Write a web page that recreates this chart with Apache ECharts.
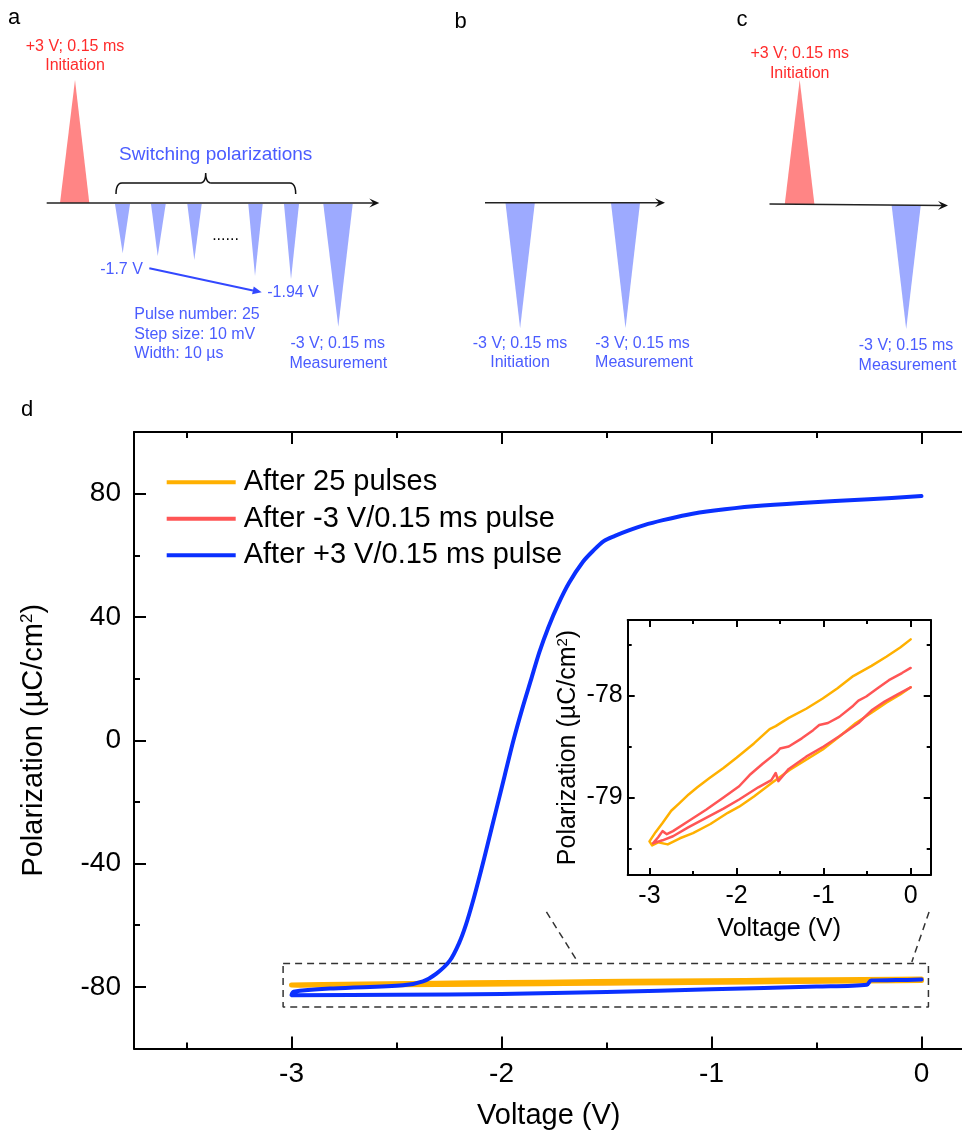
<!DOCTYPE html>
<html><head><meta charset="utf-8">
<script src="https://cdn.jsdelivr.net/npm/echarts@6/dist/echarts.min.js"></script>
<style>html,body{margin:0;padding:0;background:#fff}#c{width:962px;height:1139px}</style>
</head><body><div id="c"></div><script>
// ---------------- data (voltage V, polarization µC/cm²) ----------------
const seriesNames = ['After 25 pulses', 'After -3 V/0.15 ms pulse', 'After +3 V/0.15 ms pulse'];
const seriesColors = ['#FFB000', '#FF5555', '#0A30FF'];

const pulses25 = [
  [0,-77.45],[-0.12,-77.53],[-0.28,-77.62],[-0.45,-77.71],[-0.66,-77.81],[-0.84,-77.93],[-1.01,-78.03],
  [-1.2,-78.13],[-1.4,-78.22],[-1.55,-78.30],[-1.62,-78.33],[-1.8,-78.47],[-2.0,-78.61],[-2.15,-78.71],
  [-2.31,-78.81],[-2.45,-78.9],[-2.55,-78.97],[-2.655,-79.055],[-2.75,-79.13],[-2.85,-79.25],[-2.93,-79.34],
  [-3.0,-79.43],[-2.97,-79.47],[-2.9,-79.44],[-2.79,-79.46],[-2.65,-79.40],[-2.5,-79.35],[-2.3,-79.26],
  [-2.1,-79.15],[-1.97,-79.09],[-1.8,-78.99],[-1.6,-78.86],[-1.39,-78.73],[-1.2,-78.63],[-1.01,-78.53],
  [-0.8,-78.39],[-0.63,-78.27],[-0.45,-78.17],[-0.28,-78.07],[-0.12,-77.99],[0,-77.92]
];
const negPulse = [
  [0,-77.73],[-0.1,-77.78],[-0.25,-77.85],[-0.38,-77.93],[-0.51,-78.01],[-0.6,-78.05],[-0.66,-78.1],
  [-0.82,-78.21],[-0.95,-78.27],[-1.05,-78.29],[-1.12,-78.34],[-1.25,-78.42],[-1.4,-78.5],[-1.5,-78.52],
  [-1.54,-78.56],[-1.7,-78.67],[-1.85,-78.78],[-1.97,-78.89],[-2.15,-79.0],[-2.35,-79.12],[-2.55,-79.23],
  [-2.73,-79.33],[-2.8,-79.36],[-2.85,-79.33],[-2.9,-79.39],[-2.96,-79.45],[-2.93,-79.44],[-2.85,-79.42],
  [-2.73,-79.38],[-2.55,-79.29],[-2.35,-79.2],[-2.15,-79.11],[-1.97,-79.02],[-1.75,-78.9],[-1.6,-78.83],
  [-1.55,-78.76],[-1.52,-78.84],[-1.4,-78.72],[-1.2,-78.6],[-1.0,-78.5],[-0.82,-78.4],[-0.6,-78.27],
  [-0.44,-78.14],[-0.3,-78.06],[-0.15,-77.99],[0,-77.92]
];
const posPulse = [
  [0,79.2],[-0.25,78.2],[-0.574,77.0],[-0.8,75.9],[-0.986,74.5],[-1.12,73.1],[-1.231,71.4],[-1.32,69.8],
  [-1.397,68.0],[-1.46,66.3],[-1.513,64.6],[-1.563,61.5],[-1.612,57.9],[-1.678,51.1],[-1.728,44.4],
  [-1.777,36.6],[-1.82,28.5],[-1.86,19.5],[-1.90,10.5],[-1.943,0],[-1.985,-11.5],[-2.025,-22.5],
  [-2.065,-33.5],[-2.10,-43],[-2.135,-52],[-2.17,-60],[-2.2,-65.5],[-2.246,-71.5],[-2.31,-75.7],
  [-2.374,-78.2],[-2.469,-79.5],[-2.8,-80.5],[-2.99,-81.6],[-3.0,-82.7],[-2.5,-82.6],[-2.0,-82.3],
  [-1.5,-81.7],[-1.0,-80.8],[-0.5,-79.9],[-0.26,-79.3],[-0.24,-77.9],[-0.12,-77.8],[0,-77.65]
];

const mainXLabels = [-3, -2, -1, 0];
const mainXMinor = [-3.5, -2.5, -1.5, -0.5];
const mainYLabels = [-80, -40, 0, 40, 80];
const mainYMinor = [-60, -20, 20, 60];
const insetXLabels = [-3, -2, -1, 0];
const insetXMinor = [-2.5, -1.5, -0.5];
const insetYLabels = [-79, -78];
const insetYMinor = [-79.5, -78.5, -77.5];

const zoomWindow = [[-3.04,-72.4],[0.033,-72.4],[0.033,-86.5],[-3.04,-86.5],[-3.04,-72.4]];
const leaderLeft = [[-1.786,-55.7],[-1.637,-71.9]];
const leaderRight = [[0.036,-55.7],[-0.046,-71.9]];

// ---------------- chart ----------------
const FONT = '"Liberation Sans", Arial, Helvetica, sans-serif';
const chart = echarts.init(document.getElementById('c'), null, {renderer: 'canvas'});

function axis(gridIndex, position, min, max, ticks, len, extra) {
  return Object.assign({
    type: 'value', gridIndex, position, min, max,
    axisLine: {show: false, onZero: false},
    splitLine: {show: false},
    axisTick: {show: true, inside: true, length: len, customValues: ticks, lineStyle: {color: '#000', width: 2}},
    axisLabel: {show: false},
    axisPointer: {show: false}
  }, extra || {});
}
const lineOn = {show: true, onZero: false, lineStyle: {color: '#000', width: 2}};
function lbl(vals, size, margin) {
  return {show: true, customValues: vals, fontSize: size, fontFamily: FONT, color: '#000', margin,
          formatter: v => String(v)};
}
function titleStyle(size) {
  return {fontSize: size, fontFamily: FONT, color: '#000',
          rich: {s: {fontSize: Math.round(size * 0.6), fontFamily: FONT, color: '#000', verticalAlign: 'top',
                     lineHeight: size}}};
}

const MX = [-3.75, 0.2], MY = [-100, 100];
const IX = [-3.25, 0.23], IY = [-79.76, -77.26];
const P_TITLE = 'Polarization (µC/cm{s|2})';

const xAxes = [
  axis(0, 'bottom', MX[0], MX[1], mainXLabels, 12, {axisLine: lineOn, axisLabel: lbl(mainXLabels, 28, 12),
    name: 'Voltage (V)', nameLocation: 'middle', nameGap: 53,
    nameTextStyle: {fontSize: 29, fontFamily: FONT, color: '#000'}}),
  axis(0, 'bottom', MX[0], MX[1], mainXMinor, 6),
  axis(0, 'top', MX[0], MX[1], mainXLabels, 12, {axisLine: lineOn}),
  axis(0, 'top', MX[0], MX[1], mainXMinor, 6),
  axis(1, 'bottom', IX[0], IX[1], insetXLabels, 7, {axisLine: lineOn, axisLabel: lbl(insetXLabels, 25, 9),
    name: 'Voltage (V)', nameLocation: 'middle', nameGap: 42,
    nameTextStyle: {fontSize: 25, fontFamily: FONT, color: '#000'}}),
  axis(1, 'bottom', IX[0], IX[1], insetXMinor, 4),
  axis(1, 'top', IX[0], IX[1], insetXLabels, 7, {axisLine: lineOn}),
  axis(1, 'top', IX[0], IX[1], insetXMinor, 4)
];
const yAxes = [
  axis(0, 'left', MY[0], MY[1], mainYLabels, 12, {axisLine: lineOn, axisLabel: lbl(mainYLabels, 28, 13),
    name: P_TITLE, nameLocation: 'middle', nameGap: 86, nameTextStyle: titleStyle(29)}),
  axis(0, 'left', MY[0], MY[1], mainYMinor, 6),
  axis(1, 'left', IY[0], IY[1], insetYLabels, 7, {axisLine: lineOn, axisLabel: lbl(insetYLabels, 25, 5),
    name: P_TITLE, nameLocation: 'middle', nameGap: 47, nameTextStyle: titleStyle(25)}),
  axis(1, 'left', IY[0], IY[1], insetYMinor, 4),
  axis(1, 'right', IY[0], IY[1], insetYLabels, 7, {axisLine: lineOn}),
  axis(1, 'right', IY[0], IY[1], insetYMinor, 4)
];

function curve(name, data, color, width, xi, yi, z, smooth) {
  return {type: 'line', name, data, xAxisIndex: xi, yAxisIndex: yi, showSymbol: false, symbol: 'none',
          silent: true, animation: false, z: z || 2, clip: true, smooth: smooth || false,
          lineStyle: {color, width, join: 'round', cap: 'round'}, itemStyle: {color}};
}
function dashed(data) {
  return {type: 'line', data, xAxisIndex: 0, yAxisIndex: 0, showSymbol: false, symbol: 'none', silent: true,
          animation: false, z: 1, lineStyle: {color: '#333', width: 1.5, type: [7, 5]}};
}

// ---------------- schematic (panels a-c) ----------------
const PINK = '#FF8585', RED_T = '#FF2B2B', BLUE_F = '#9DAAFF', BLUE_T = '#4A5CFF', ARROW_B = '#3348FF';
const g = [];
function tri(x1, x2, yb, xa, ya, fill) {
  g.push({type: 'polygon', shape: {points: [[x1, yb], [x2, yb], [xa, ya]]}, style: {fill}, silent: true});
}
function txt(text, x, y, fill, size, align) {
  g.push({type: 'text', silent: true, style: {text, x, y, fill, font: size + 'px ' + FONT,
          align: align || 'center', verticalAlign: 'middle'}});
}
function timeAxis(x1, y1, x2, y2) {
  const dx = x2 - x1, dy = y2 - y1, L = Math.hypot(dx, dy), ux = dx / L, uy = dy / L;
  const bx = x2 - ux * 10, by = y2 - uy * 10;
  g.push({type: 'line', shape: {x1, y1, x2: x2 - ux * 4, y2: y2 - uy * 4}, style: {stroke: '#222', lineWidth: 1.5}, silent: true});
  g.push({type: 'polygon', silent: true, style: {fill: '#111'}, shape: {points: [
    [x2, y2], [bx - uy * 4.5, by + ux * 4.5], [x2 - ux * 6, y2 - uy * 6], [bx + uy * 4.5, by - ux * 4.5]]}});
}
function quad(p0, c, p1, n) {
  const out = [];
  for (let i = 0; i <= n; i++) {
    const t = i / n, a = (1 - t) * (1 - t), b = 2 * (1 - t) * t, d = t * t;
    out.push([a * p0[0] + b * c[0] + d * p1[0], a * p0[1] + b * c[1] + d * p1[1]]);
  }
  return out;
}

// panel a
txt('a', 14, 18, '#000', 22);
tri(60, 89.3, 203, 75, 80, PINK);
tri(115, 130, 204, 122.7, 253.3, BLUE_F);
tri(151, 165.7, 204, 157.7, 256, BLUE_F);
tri(187.3, 201.7, 204, 194.3, 260, BLUE_F);
tri(248.3, 262.7, 204, 255, 276, BLUE_F);
tri(284, 299, 204, 291, 279.3, BLUE_F);
tri(323.3, 352.7, 204, 338.3, 326.7, BLUE_F);
timeAxis(46.7, 203, 379.3, 203);
(function () {
  const pts = [].concat(
    quad([116, 194], [116, 183], [122, 183], 6),
    quad([200, 183], [205.7, 183], [205.7, 173], 6),
    quad([205.7, 173], [205.7, 183], [211.4, 183], 6),
    quad([289.7, 183], [295.7, 183], [295.7, 194], 6));
  g.push({type: 'polyline', silent: true, shape: {points: pts}, style: {stroke: '#111', lineWidth: 1.5, fill: null}});
})();
txt('+3 V; 0.15 ms', 75, 46.7, RED_T, 16);
txt('Initiation', 75, 66, RED_T, 16);
txt('Switching polarizations', 215.7, 155, BLUE_T, 19);
txt('......', 225.5, 236, '#000', 16);
txt('-1.7 V', 121.5, 269.3, BLUE_T, 16);
txt('-1.94 V', 293, 292.7, BLUE_T, 16);
txt('Pulse number: 25', 134.3, 315, BLUE_T, 16, 'left');
txt('Step size: 10 mV', 134.3, 334.5, BLUE_T, 16, 'left');
txt('Width: 10 µs', 134.3, 354, BLUE_T, 16, 'left');
txt('-3 V; 0.15 ms', 337.7, 344, BLUE_T, 16);
txt('Measurement', 338.3, 363.3, BLUE_T, 16);
(function () {
  const x1 = 149.3, y1 = 268.3, x2 = 261.7, y2 = 292.3;
  const L = Math.hypot(x2 - x1, y2 - y1), ux = (x2 - x1) / L, uy = (y2 - y1) / L;
  const bx = x2 - ux * 9, by = y2 - uy * 9;
  g.push({type: 'line', silent: true, shape: {x1, y1, x2: bx, y2: by}, style: {stroke: ARROW_B, lineWidth: 2}});
  g.push({type: 'polygon', silent: true, style: {fill: ARROW_B},
          shape: {points: [[x2, y2], [bx - uy * 4, by + ux * 4], [bx + uy * 4, by - ux * 4]]}});
})();

// panel b
txt('b', 460.6, 21.7, '#000', 22);
tri(505.5, 534.8, 203, 520.1, 328.3, BLUE_F);
tri(611, 640, 203, 625.5, 328.3, BLUE_F);
timeAxis(485, 202.7, 665, 202.7);
txt('-3 V; 0.15 ms', 520, 343.3, BLUE_T, 16);
txt('Initiation', 520, 362.7, BLUE_T, 16);
txt('-3 V; 0.15 ms', 642.5, 343.3, BLUE_T, 16);
txt('Measurement', 644, 362.7, BLUE_T, 16);

// panel c
txt('c', 742, 20, '#000', 22);
tri(784.8, 814.4, 204, 799.7, 80, PINK);
tri(891.6, 920.8, 205, 906.2, 329.3, BLUE_F);
timeAxis(769.5, 204, 948, 205.5);
txt('+3 V; 0.15 ms', 799.7, 53.3, RED_T, 16);
txt('Initiation', 799.7, 73.3, RED_T, 16);
txt('-3 V; 0.15 ms', 906, 345.7, BLUE_T, 16);
txt('Measurement', 907.5, 365.7, BLUE_T, 16);

// panel d letter
txt('d', 27, 410, '#000', 22);

chart.setOption({
  animation: false,
  backgroundColor: '#fff',
  grid: [
    {left: 134, top: 432, width: 829.5, height: 616.5, containLabel: false, outerBoundsMode: 'none'},
    {left: 627.7, top: 620, width: 303, height: 255, containLabel: false, outerBoundsMode: 'none'}
  ],
  xAxis: xAxes,
  yAxis: yAxes,
  legend: {
    data: seriesNames, orient: 'vertical', left: 166.7, top: 467, icon: 'rect', padding: 0,
    itemWidth: 69, itemHeight: 4, itemGap: 6, selectedMode: false,
    textStyle: {fontSize: 29, fontFamily: FONT, color: '#000', lineHeight: 30.5, padding: [0, 0, 0, 3]}
  },
  series: [
    curve(seriesNames[1], negPulse, seriesColors[1], 4, 0, 0, 2),
    curve(seriesNames[0], pulses25, seriesColors[0], 5, 0, 0, 3),
    curve(seriesNames[2], posPulse, seriesColors[2], 4, 0, 0, 4, 0.3),
    dashed(zoomWindow), dashed(leaderLeft), dashed(leaderRight),
    curve(seriesNames[0], pulses25, seriesColors[0], 2.5, 4, 2, 6),
    curve(seriesNames[1], negPulse, seriesColors[1], 2.5, 4, 2, 7)
  ],
  graphic: {elements: g}
});
</script></body></html>
